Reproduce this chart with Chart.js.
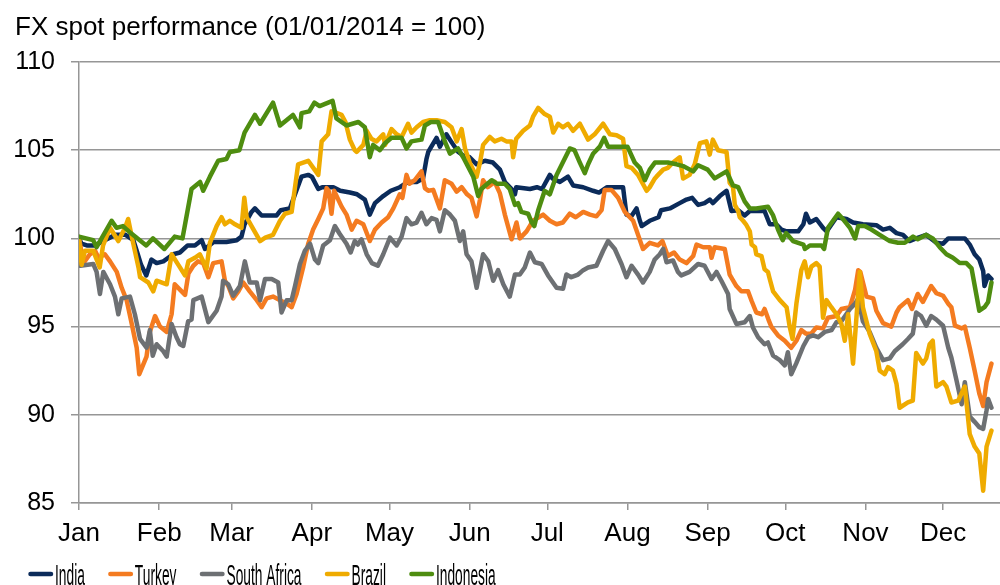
<!DOCTYPE html>
<html>
<head>
<meta charset="utf-8">
<script src="https://cdn.jsdelivr.net/npm/chart.js@4.4.1/dist/chart.umd.min.js"></script>
<style>
  html, body { margin: 0; padding: 0; background: #ffffff; }
  #wrap { width: 1000px; height: 585px; overflow: hidden; }
</style>
</head>
<body>
<div id="wrap"><canvas id="c" width="1000" height="585"></canvas></div>
<script>
// ---- Data (x = day of year 2014, 0 = 1 Jan; y = index, 01/01/2014 = 100) ----
const titleText = "FX spot performance (01/01/2014 = 100)";
const monthLabels = ["Jan","Feb","Mar","Apr","May","Jun","Jul","Aug","Sep","Oct","Nov","Dec"];
const monthStartDays = [0,31,59,90,120,151,181,212,243,273,304,334];
const seriesNames = ["India","Turkey","South Africa","Brazil","Indonesia"];
const seriesColors = ["#0b2b5a","#f47b20","#6d7073","#efab00","#4e8d10"];

const indiaDays = [0,1,3,6,10,14,18,21,22.3,24,26,28,30,32.6,36.4,39,42,44.8,47.4,48.7,52,57,61,62.8,64,66.7,68,70.6,76.4,78,81.5,84,86,88.6,90,92.5,94,98.3,101,104.7,107.5,110.5,112.4,114.4,117.6,120.5,124,127.2,130.5,133,134.3,135,138.2,139.5,142,143.8,146.6,148.5,151,153.7,156.9,160,162.7,164.6,167.2,168.5,169,174.3,177,179,182,183,185.9,189,191,194.9,198.7,201,204,210.3,211.6,213.5,215.5,216.8,217.5,220.6,224,225,228.4,232.2,234.8,237,239.3,241.8,243.8,245,247.7,250.3,252.2,254.8,257.3,259.3,265,267,269.5,271.5,273.5,278,280,281,282.5,285,287.6,289,292.8,296.7,299.2,303,308.2,310.8,313.4,316,318.5,321,323.6,327.5,331.4,334,336,339.8,342.4,344.3,346.2,348,349.5,350,351.4,352.7];
const indiaValues = [100,99.7,99.6,99.6,99.9,100.2,100.2,99.9,99.3,98.5,97.9,98.8,98.6,98.7,99.1,99.2,99.6,99.6,99.9,99.4,99.8,99.8,99.9,100.1,100.8,101.5,101.7,101.3,101.3,101.6,101.7,102.7,103.5,103.6,103.5,102.8,102.9,102.9,102.7,102.6,102.5,102.2,101.35,102.0,102.4,102.7,102.9,103.2,103.2,103.4,104.5,104.9,105.7,105.2,105.9,105.5,104.9,104.7,104.6,104.2,104.4,104.3,103.9,103.2,102.8,102.5,102.9,102.8,102.9,102.8,103.6,103.4,103.2,103.5,103.0,102.9,102.7,102.6,102.9,102.9,101.35,101.25,101.7,101.0,100.7,101.0,101.2,101.6,101.7,102.0,102.2,102.3,101.9,102.0,102.2,102.0,102.4,102.7,101.55,101.6,101.3,101.55,101.55,100.8,100.8,100.5,100.4,100.4,100.8,101.4,100.9,101.1,100.6,100.4,101.2,101.1,100.9,100.8,100.75,100.5,100.6,100.3,100.2,99.85,100.0,100.2,99.75,99.7,100.0,100.0,100.0,99.65,99.1,98.8,98.15,97.3,97.9,97.7];

const turkeyDays = [0,1,1.7,4.2,6.2,7.5,10,12,14.6,16.5,18.4,20.4,22.3,23.3,26.1,27.4,29.4,31.3,33.9,35.8,37,39,41,42.3,44.2,46,48,50,51.9,55.1,56.4,57.7,59.6,61.6,63.5,66,68.7,70.6,72.5,75,77.7,80.3,82.2,84.1,86.7,88.6,90.5,92.5,94.4,95.7,96.5,97.6,98.6,101.5,103.4,105.4,107.3,109.9,112.4,114.4,117,119.5,121.5,124,125,126.6,127.8,129.8,132.4,133.7,135,136.9,139.5,141.4,144,146,147.9,150,151.7,153.7,155,156.2,158,160.7,162.7,164.6,167.2,169.1,170.4,173,175.5,179.4,182,184.6,187,189.7,192,194.9,197.5,200,202,203.2,205.8,208.4,211,214.2,216.1,218,220.6,223.8,225.5,227.6,230,232.2,234.8,237.4,238.7,241.3,243.8,244.5,245.7,249.6,251.5,254.1,256,258.6,260,261.8,264,265,266.5,267.6,270.2,272.8,275.3,277.3,279.2,281,283,285,287.6,289.5,292.8,294.7,298,300,301.2,302,304.4,307,308.2,310.8,314,316,317.2,320.4,322,324.2,326.2,329.4,331.4,334,336,337.2,338.6,341.2,342.4,344.3,346.2,348,349.5,350.8,352.7];
const turkeyValues = [100,99.2,98.6,99.1,99.3,98.9,99.1,98.7,98.1,97.2,96.5,95.15,93.8,92.3,93.3,94.7,95.6,95.0,94.7,95.7,97.4,97.1,96.8,98.0,98.45,98.7,98.6,97.8,98.6,98.7,97.6,97.3,96.6,97.0,97.5,97.0,96.5,96.1,96.6,96.7,96.5,96.3,96.1,96.85,98.4,99.7,100.5,101.1,101.7,102.85,102.7,101.4,102.7,101.8,101.35,100.5,101.0,100.8,99.85,100.5,100.9,101.2,101.7,102.5,102.3,103.6,103.1,103.3,103.8,102.85,102.7,102.75,101.7,103.3,103.1,102.65,102.9,102.5,102.3,101.25,102.2,103.3,102.9,103.2,102.55,101.35,99.95,100.9,100.0,100.4,101.0,101.35,101.0,100.8,100.9,101.4,101.2,101.5,101.35,101.25,101.6,102.75,102.75,102.3,101.5,101.0,100.2,99.4,99.75,99.6,99.85,99.0,99.2,98.8,98.6,99.0,99.65,99.5,99.5,98.9,99.5,99.4,97.95,97.3,97.0,97.0,96.45,95.8,95.7,96.0,95.4,95.0,94.5,94.2,93.8,94.2,94.8,94.6,94.6,94.95,94.9,95.5,95.6,96.0,96.1,97.1,98.2,98.1,96.7,96.6,95.9,95.2,95.0,95.8,96.1,96.5,96.0,96.85,96.4,97.3,96.9,96.75,96.3,96.1,95.05,94.9,95.0,93.8,92.5,91.2,90.5,91.85,92.9];

const southAfricaDays = [0,0.5,5.5,6.8,8.1,9.4,12,13.9,15.2,16.5,19.7,21.6,23.6,26.1,27.4,28.5,30,32.6,33.9,35.8,37.7,39,40.3,42.2,43.5,44.2,47.4,50,53.2,55.1,55.7,57.7,59.6,62.2,64.1,66,68.7,70,71.9,74.5,77,78.3,80.3,82.2,83.5,85.4,87.3,89.3,91.2,92.5,94.4,97,98.9,100.8,103.4,105,106.6,107.8,109.2,111.2,113.2,115.5,117.6,120.2,122.8,124.7,126.6,128.5,130.5,132.4,134.3,136.3,138.2,139.5,141.4,143.4,145.3,147.2,148.5,149.8,151.7,153.7,156.2,158.2,160.1,162,164,166.5,168.5,170.4,172.3,174.3,176.2,178.8,181.3,184.6,187.1,188.4,190.3,192.9,194.9,196.8,200,202.6,204.5,207.1,209.7,211.6,213.6,216.1,218,220.6,222.5,224.5,225.8,227.1,229.6,231.5,232.8,236,239.3,241.8,244.5,246.4,248.3,250.9,251.5,254.1,257.3,259.3,260.5,262.5,265,266.3,268.3,270.9,272.8,274,275.3,277.2,280,281.9,283.8,285.7,288.3,290.9,292.8,294.7,298,300,301.2,303,305.6,308.2,310.8,313.4,315.3,318.4,320.4,322.3,323.6,325.5,327.5,329.4,331.4,334,336,337.2,339.2,341.2,342.4,344.3,346.2,348,349.5,350.8,351.4,352.7];
const southAfricaValues = [100,98.45,98.55,98.1,96.85,98.1,97.4,96.7,95.7,96.6,96.7,95.7,94.3,93.8,94.8,93.35,94.0,93.6,93.3,95.15,94.4,94.0,93.9,95.3,95.4,96.5,96.7,95.25,95.9,96.7,97.6,97.4,96.75,97.3,98.7,97.5,97.5,96.5,97.7,97.7,97.5,95.8,96.5,96.5,97.3,98.55,99.3,99.7,98.8,98.6,99.6,99.9,100.7,100.25,99.7,99.2,99.85,99.65,99.95,99.1,98.6,98.45,99.1,100.04,99.6,100.1,101.15,100.8,100.9,101.45,100.8,101.15,101.05,100.4,101.6,101.35,101.0,99.85,100.4,99.1,98.7,97.2,99.1,98.7,97.6,98.2,97.4,96.7,97.95,97.95,98.35,99.2,98.65,98.55,97.9,97.2,97.15,97.95,97.8,97.95,98.2,98.35,98.45,99.3,99.85,99.4,98.55,97.8,98.45,97.95,97.5,98.1,98.8,99.1,99.4,98.65,98.75,98.1,97.9,98.1,98.55,98.45,97.7,98.1,97.6,96.85,96.0,95.15,95.25,95.6,94.95,94.4,94.0,94.1,93.35,93.1,92.8,93.55,92.3,92.9,93.9,94.4,94.5,94.4,94.7,94.8,95.25,95.3,96.0,96.3,96.6,95.3,94.7,93.8,93.1,93.2,93.6,94.0,94.3,94.6,95.8,95.6,95.05,95.6,95.4,95.05,93.8,93.25,91.95,90.6,91.85,89.9,89.6,89.3,89.2,90.25,90.9,90.4];

const brazilDays = [0,1,2.3,5.5,8,9.3,12,15.2,17.8,19,20.4,23,23.6,26.8,28.7,30,33.9,35.8,38.4,41,42.3,44.8,46.7,49.3,50.6,53.2,55.1,56.4,58.3,60.3,62.8,63.9,64.8,66.7,70,72,75,77.7,79.6,82.2,84.7,88.6,92.5,93.8,96.3,97.6,99,101.5,103,104.7,106.6,107.3,109.9,111.2,113,115,117.6,118.3,120.8,122.8,124.7,127.2,128.5,130.5,133,135.6,138.2,141.4,144,146,147.9,149.2,151,153.7,155,156.2,158.8,160.7,163.3,165.2,167.2,167.8,169,171.7,174.3,175.5,177.5,180,182,183.3,185.2,187,189,191,193.6,196.8,199.3,202.6,205.2,207.8,210.3,211.6,213.6,216.1,219.4,220.6,222.6,223.2,225.8,227.6,229.6,232.2,233.5,236,238,240,242.5,243.8,245,247,250.3,251.5,252.8,253.5,254.8,255.4,256.7,257.8,259.3,260,261.3,261.8,263.8,265,266.3,267,268.3,270.9,273.5,274.7,275.8,277.3,279.2,280.5,281.8,283.1,285,286.3,287.6,288.9,290.8,292.8,294.7,296,297.3,299.2,300.5,301.8,303,305.6,308.2,309.5,311.4,312.7,314.6,316,317.2,320.4,322.3,323.6,326.2,327.5,328.8,330,331.4,334,335.3,337.2,339.8,342.4,344.3,346.2,348,349.5,350.8,352.7];
const brazilValues = [100,98.5,99.3,99.3,98.35,99.6,100.6,99.85,100.6,101.1,100.1,98.35,97.8,97.5,97.0,97.6,97.4,99.1,98.5,97.9,98.7,98.9,99.1,98.3,99.75,100.7,101.2,100.8,101.0,100.8,100.6,102.3,101.2,100.7,99.85,100.04,100.2,101.0,101.4,101.5,104.2,104.4,103.6,105.5,105.9,107.2,107.15,107.0,106.6,105.6,105.0,104.9,105.3,106.1,105.65,105.5,105.9,105.3,106.2,105.9,105.75,106.5,106.0,106.3,106.6,106.7,106.7,106.6,106.3,105.5,106.2,105.1,104.3,103.5,104.3,105.3,105.75,105.5,105.65,105.5,105.5,104.6,105.65,106.1,106.4,106.9,107.4,107.05,106.9,106.0,106.5,106.3,106.5,106.1,106.5,105.6,105.9,106.5,105.9,105.85,105.65,104.1,104.0,103.6,102.7,102.9,103.4,103.5,103.9,104.0,104.3,104.6,103.4,103.6,104.2,105.4,105.5,104.75,105.6,105.0,104.9,103.15,102.9,101.9,101.55,101.2,101.0,100.8,100.4,99.65,99.5,99.1,99.0,98.25,98.1,97.7,97.0,96.5,96.1,95.0,94.3,96.3,98.2,98.7,97.8,98.4,98.6,98.4,95.5,96.5,96.1,95.7,95.15,94.2,95.7,92.9,95.5,98.1,96.1,94.6,93.6,92.5,92.3,92.7,92.5,91.75,90.4,90.7,90.8,93.5,92.9,93.2,94.0,94.2,91.6,91.85,91.6,90.7,90.8,91.6,88.9,88.2,87.8,85.7,88.2,89.1];

const indonesiaDays = [0,5.5,6.8,12.6,14.5,17,20,26,28.6,33,37,40,43.5,46.8,48,50.6,53.8,57,58.3,62,64,68,70,75,77.7,82.7,85.4,86,89,91,93,98,99.5,103.4,108,110.5,112.4,113.7,116.3,118.3,120.8,124.7,126.6,128.5,132.4,133.7,136,138.8,141.4,143.4,146.5,148.5,152.4,154.3,155.5,159.5,161.5,164.6,166.5,168.5,169.7,171,173.6,175,176,177.5,180,182,184.6,187,189.7,191.5,193.6,195.5,196.8,198.7,201.3,203,204.5,207.8,212,214.8,216.8,218.7,220.6,222.6,225,227.6,231,233.5,237.4,239.3,243,245.7,250.3,252.8,254.8,257.3,259.3,261.8,266.3,268.3,270.2,272,273.3,276,280,280.6,282.5,287,288,289.5,293.4,295.3,298,300,301.2,303.7,306.3,309.5,313.4,316.6,319.2,322.4,324.2,327.5,330,332.7,335.3,337.8,340.4,343,345,348,350,351.4,352.7];
const indonesiaValues = [100.1,99.9,99.5,101.0,100.6,100.7,100.3,99.6,100.0,99.4,100.1,100.0,102.8,103.2,102.7,103.5,104.4,104.5,104.9,105.0,106.0,107.0,106.5,107.7,106.4,107.0,106.3,107.1,107.2,107.7,107.5,107.8,106.8,106.4,106.6,106.3,104.6,105.3,105.0,105.4,105.7,105.7,105.1,105.5,105.6,106.4,106.6,106.6,105.5,104.8,105.1,104.6,103.5,102.4,102.8,103.3,103.1,103.1,102.8,101.9,102.0,101.5,101.4,100.9,100.7,101.6,102.7,102.5,103.6,104.3,105.1,105.0,104.3,103.7,104.2,104.8,105.2,105.7,105.2,105.2,105.2,104.3,104.0,103.3,103.9,104.3,104.3,104.3,104.2,104.1,103.8,104.15,103.9,103.4,103.8,103.0,102.9,102.1,101.7,101.7,101.8,101.3,100.5,99.9,100.3,99.85,99.65,99.4,99.6,99.6,99.4,100.6,101.4,101.1,100.6,100.0,100.7,100.7,100.5,100.2,99.85,99.75,99.75,100.1,99.95,100.2,100.0,99.5,99.1,98.9,98.6,98.6,98.3,95.9,96.1,96.4,97.5];

const yMin = 85, yMax = 110, yStep = 5;
const xMin = 0, xMax = 356;

// ---- Build datasets ----
const dayLists = [indiaDays, turkeyDays, southAfricaDays, brazilDays, indonesiaDays];
const valueLists = [indiaValues, turkeyValues, southAfricaValues, brazilValues, indonesiaValues];
const datasets = seriesNames.map((name, i) => ({
  label: name,
  data: dayLists[i].map((d, j) => ({ x: d, y: valueLists[i][j] })),
  borderColor: seriesColors[i],
  backgroundColor: seriesColors[i],
  borderWidth: 4.5,
  pointRadius: 0,
  pointHoverRadius: 0,
  tension: 0,
  fill: false,
  borderJoinStyle: 'round',
  borderCapStyle: 'round',
  order: seriesNames.length - 1 - i
}));

const FONT = '"Liberation Sans", Arial, Helvetica, sans-serif';
const GRID = '#969696';

const titlePlugin = {
  id: 'topTitle',
  afterDraw(chart) {
    const ctx = chart.ctx;
    ctx.save();
    ctx.font = '26px ' + FONT;
    ctx.fillStyle = '#000000';
    ctx.textBaseline = 'alphabetic';
    ctx.textAlign = 'left';
    ctx.fillText(titleText, 15, 35);
    ctx.restore();
  }
};

const legendPlugin = {
  id: 'bottomLegend',
  afterDraw(chart) {
    const ctx = chart.ctx;
    ctx.save();
    const sx = 0.475;
    const yLine = 574;
    let x = 28;
    ctx.font = '29px ' + FONT;
    chart.data.datasets.forEach(ds => {
      ctx.strokeStyle = ds.borderColor;
      ctx.lineWidth = 4.5;
      ctx.lineCap = 'round';
      ctx.beginPath();
      ctx.moveTo(x + 2.5, yLine);
      ctx.lineTo(x + 23, yLine);
      ctx.stroke();
      x += 27;
      const w = ctx.measureText(ds.label).width * sx;
      ctx.save();
      ctx.translate(x, 585);
      ctx.scale(sx, 1);
      ctx.fillStyle = '#000000';
      ctx.textBaseline = 'alphabetic';
      ctx.textAlign = 'left';
      ctx.fillText(ds.label, 0, 0);
      ctx.restore();
      x += w + 23;
    });
    ctx.restore();
  }
};

new Chart(document.getElementById('c'), {
  type: 'line',
  data: { datasets },
  options: {
    responsive: false,
    devicePixelRatio: 1,
    animation: false,
    events: [],
    layout: { padding: { top: 62, bottom: 32, left: 0, right: 0 } },
    plugins: {
      legend: { display: false },
      title: { display: false },
      tooltip: { enabled: false }
    },
    scales: {
      x: {
        type: 'linear',
        min: xMin,
        max: xMax,
        afterBuildTicks: (scale) => { scale.ticks = monthStartDays.map(v => ({ value: v })); },
        afterFit: (scale) => { scale.height = 50; },
        ticks: {
          autoSkip: false,
          maxRotation: 0,
          padding: 8,
          color: '#000000',
          font: { family: FONT, size: 26 },
          callback: (value, index) => monthLabels[index]
        },
        grid: {
          display: true,
          drawOnChartArea: false,
          drawTicks: true,
          tickLength: 7,
          color: GRID,
          lineWidth: 1.5
        },
        border: { display: true, color: GRID, width: 1.5 }
      },
      y: {
        min: yMin,
        max: yMax,
        afterFit: (scale) => { scale.width = 79; },
        ticks: {
          stepSize: yStep,
          padding: 16,
          color: '#000000',
          font: { family: FONT, size: 25 }
        },
        grid: {
          color: GRID,
          lineWidth: 1.5,
          drawTicks: true,
          tickLength: 8
        },
        border: { display: true, color: GRID, width: 1.5 }
      }
    }
  },
  plugins: [titlePlugin, legendPlugin]
});
</script>
</body>
</html>
